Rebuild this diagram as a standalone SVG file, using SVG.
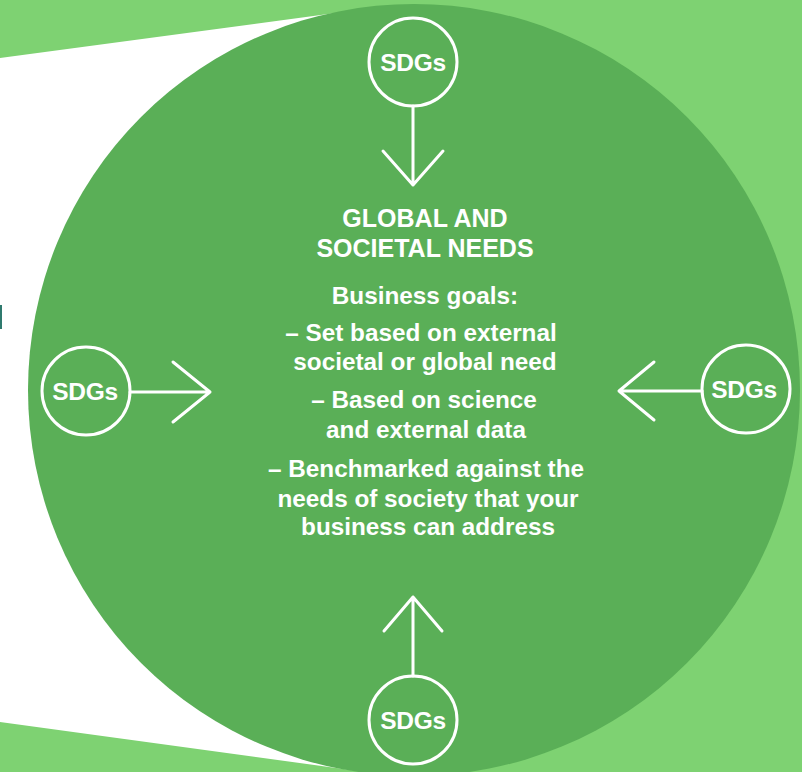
<svg xmlns="http://www.w3.org/2000/svg" width="802" height="772" viewBox="0 0 802 772">
  <defs>
    <style>
      .sdg-ring { fill: none; stroke: #ffffff; stroke-width: 3; }
      .sdg-label { font-family: "Liberation Sans", Arial, sans-serif; font-weight: bold; font-size: 24.5px; fill: #ffffff; text-anchor: middle; letter-spacing: -0.3px; }
      .link { fill: none; stroke: #ffffff; stroke-width: 3; stroke-linecap: round; stroke-linejoin: round; }
      .body { font-family: "Liberation Sans", Arial, sans-serif; font-weight: bold; font-size: 24.3px; fill: #ffffff; text-anchor: middle; }
      .title { font-family: "Liberation Sans", Arial, sans-serif; font-weight: bold; font-size: 25px; fill: #ffffff; text-anchor: middle; }
    </style>
  </defs>
  <rect x="0" y="0" width="802" height="772" fill="#7ed272"/>
  <polygon points="0,58 380,7 380,774 0,722" fill="#ffffff"/>
  <rect x="0" y="305" width="2" height="24" fill="#2f7a6e"/>
  <g id="main">
    <circle cx="414" cy="390" r="386" fill="#5aaf57"/>
    <text class="title" x="425" y="227">GLOBAL AND</text>
    <text class="title" x="425" y="257">SOCIETAL NEEDS</text>
    <text class="body" x="425" y="304">Business goals:</text>
    <text class="body" x="421" y="341">–  Set based on external</text>
    <text class="body" x="425" y="370">societal or global need</text>
    <text class="body" x="424" y="408">–  Based on science</text>
    <text class="body" x="426" y="438">and external data</text>
    <text class="body" x="426" y="477">–  Benchmarked against the</text>
    <text class="body" x="428" y="507">needs of society that your</text>
    <text class="body" x="428" y="535">business can address</text>
  </g>
  <g id="sdg-top">
    <circle class="sdg-ring" cx="413" cy="62" r="44"/>
    <text class="sdg-label" x="413" y="71">SDGs</text>
  </g>
  <g id="sdg-left">
    <circle class="sdg-ring" cx="86" cy="391" r="44"/>
    <text class="sdg-label" x="85" y="400">SDGs</text>
  </g>
  <g id="sdg-right">
    <circle class="sdg-ring" cx="746" cy="389" r="44"/>
    <text class="sdg-label" x="744" y="398">SDGs</text>
  </g>
  <g id="sdg-bottom">
    <circle class="sdg-ring" cx="413" cy="720" r="44"/>
    <text class="sdg-label" x="413" y="729">SDGs</text>
  </g>
  <g id="connectors">
    <path class="link" d="M413,106 V185 M383,151 L413,185 L443,151"/>
    <path class="link" d="M130,392 H210 M173,362 L210,392 L173,422"/>
    <path class="link" d="M702,391 H619 M654,362 L619,391 L654,420"/>
    <path class="link" d="M413,676 V597 M384,631 L413,597 L442,631"/>
  </g>
</svg>
